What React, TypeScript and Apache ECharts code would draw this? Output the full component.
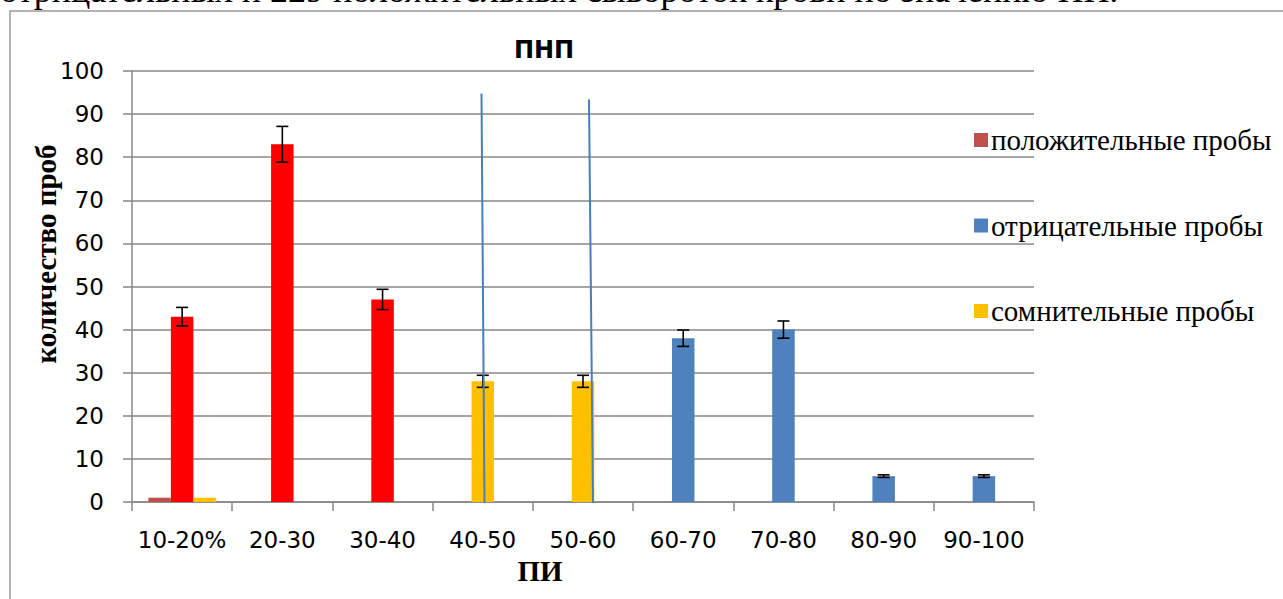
import React, { useEffect, useRef } from "react";
import * as echarts from "echarts";

const categories = ["10-20%", "20-30", "30-40", "40-50", "50-60", "60-70", "70-80", "80-90", "90-100"];
const positive = [1, 0, 0, 0, 0, 0, 0, 0, 0];
const negative = [43, 83, 47, 28, 28, 38, 40, 6, 6];
const doubtful = [1, 0, 0, 0, 0, 0, 0, 0, 0];
const errors = [2.15, 4.15, 2.35, 1.4, 1.4, 1.9, 2, 0.3, 0.3];
const pointColors = ["#ff0000", "#ff0000", "#ff0000", "#ffc000", "#ffc000", "#4f81bd", "#4f81bd", "#4f81bd", "#4f81bd"];
const seriesNames = ["положительные пробы", "отрицательные пробы", "сомнительные пробы"];
const seriesColors = ["#c0504d", "#4f81bd", "#ffc000"];
const yTicks = [0, 100, 10];

const GRID = "#878787";
const SERIF = '"Liberation Serif", "Times New Roman", serif';
const SANS = '"DejaVu Sans", sans-serif';

export default function App() {
  const ref = useRef<HTMLDivElement>(null);
  useEffect(() => {
    if (!ref.current) return;
    const chart = echarts.init(ref.current, null, { renderer: "svg" });
    const option: any = {
      animation: false,
      backgroundColor: "#ffffff",
      grid: { left: 132, right: 249, top: 71, bottom: 97, containLabel: false },
      legend: {
        orient: "vertical",
        left: 969,
        top: 120,
        itemWidth: 14,
        itemHeight: 14,
        itemGap: 55.5,
        icon: "rect",
        data: seriesNames,
        selectedMode: false,
        textStyle: { fontFamily: SERIF, fontSize: 29, color: "#000", lineHeight: 30, padding: [0, 0, 0, -2] },
      },
      xAxis: {
        type: "category",
        data: categories,
        boundaryGap: true,
        axisLine: { show: true, lineStyle: { color: GRID, width: 1.5 } },
        axisTick: { show: true, interval: 0, length: 9, lineStyle: { color: GRID, width: 1.5 } },
        axisLabel: { interval: 0, margin: 26, fontFamily: SANS, fontSize: 23, color: "#000" },
        splitLine: { show: false },
      },
      yAxis: {
        type: "value",
        min: yTicks[0],
        max: yTicks[1],
        interval: yTicks[2],
        axisLine: { show: true, lineStyle: { color: GRID, width: 1.5 } },
        axisTick: { show: true, length: 9, lineStyle: { color: GRID, width: 1.5 } },
        axisLabel: { margin: 28, fontFamily: SANS, fontSize: 23, color: "#000" },
        splitLine: { show: true, lineStyle: { color: GRID, width: 1.5 } },
      },
      series: [
        {
          name: seriesNames[0],
          type: "bar",
          data: positive,
          barWidth: 22.5,
          barGap: "0%",
          itemStyle: { color: seriesColors[0] },
        },
        {
          name: seriesNames[1],
          type: "bar",
          barWidth: 22.5,
          barGap: "0%",
          itemStyle: { color: seriesColors[1] },
          data: negative.map((v, i) => ({ value: v, itemStyle: { color: pointColors[i] } })),
        },
        {
          name: seriesNames[2],
          type: "bar",
          data: doubtful,
          barWidth: 22.5,
          barGap: "0%",
          itemStyle: { color: seriesColors[2] },
        },
        {
          name: "errors",
          type: "custom",
          z: 10,
          data: negative.map((v, i) => [i, v, errors[i]]),
          renderItem: (params: any, api: any) => {
            const i = api.value(0);
            const v = api.value(1);
            const e = api.value(2);
            const top = api.coord([i, v + e]);
            const bot = api.coord([i, v - e]);
            const x = top[0];
            const half = 6;
            const style = { stroke: "#000", lineWidth: 1.6 };
            return {
              type: "group",
              children: [
                { type: "line", shape: { x1: x, y1: top[1], x2: x, y2: bot[1] }, style },
                { type: "line", shape: { x1: x - half, y1: top[1], x2: x + half, y2: top[1] }, style },
                { type: "line", shape: { x1: x - half, y1: bot[1], x2: x + half, y2: bot[1] }, style },
              ],
            };
          },
        },
      ],
      graphic: [
        {
          type: "rect",
          shape: { x: 10, y: 11, width: 1400, height: 700 },
          style: { fill: "none", stroke: "#9a9a9a", lineWidth: 1.5 },
          silent: true,
        },
        {
          type: "text",
          x: 0,
          y: -10,
          style: {
            text: "отрицательных и 229 положительных сывороток крови по значению ПИ.",
            font: "36px " + SERIF,
            fill: "#000",
            textAlign: "left",
            textVerticalAlign: "middle",
          },
        },
        {
          type: "text",
          x: 544,
          y: 50,
          style: {
            text: "ПНП",
            font: "bold 24px " + SANS,
            fill: "#000",
            textAlign: "center",
            textVerticalAlign: "middle",
          },
        },
        {
          type: "text",
          x: 46,
          y: 254,
          rotation: Math.PI / 2,
          style: {
            text: "количество проб",
            font: "bold 29px " + SERIF,
            fill: "#000",
            textAlign: "center",
            textVerticalAlign: "middle",
          },
        },
        {
          type: "text",
          x: 540,
          y: 571,
          style: {
            text: "ПИ",
            font: "bold 29px " + SERIF,
            fill: "#000",
            textAlign: "center",
            textVerticalAlign: "middle",
          },
        },
        {
          type: "line",
          z: 20,
          shape: { x1: 481.5, y1: 93.5, x2: 484.5, y2: 503 },
          style: { stroke: "#4a7ebb", lineWidth: 2 },
        },
        {
          type: "line",
          z: 20,
          shape: { x1: 589, y1: 99.5, x2: 593, y2: 503 },
          style: { stroke: "#4a7ebb", lineWidth: 2 },
        },
      ],
    };
    chart.setOption(option);
    return () => chart.dispose();
  }, []);
  return (
    <div
      ref={ref}
      style={{ position: "absolute", left: 0, top: 0, width: 1283, height: 599, background: "#fff" }}
    />
  );
}
